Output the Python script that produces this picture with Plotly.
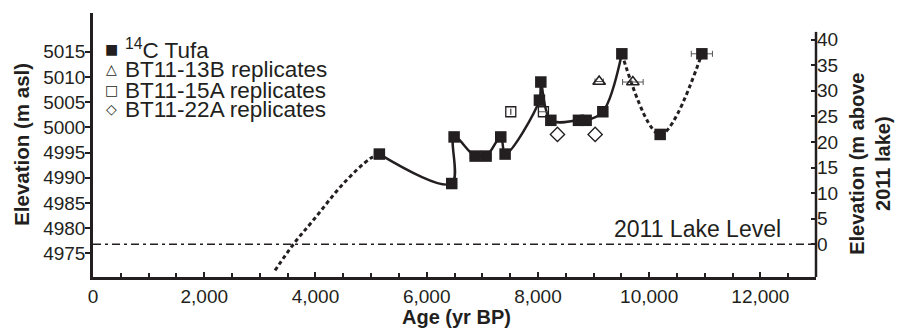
import plotly.graph_objects as go

# ---- data ----
tufa_age = [5149, 6451, 6493, 6871, 7068, 7332, 7410, 8027, 8052, 8232, 8729, 8867, 9167, 9509, 10198, 10948]
tufa_elev = [4994.7, 4988.85, 4998.1, 4994.3, 4994.3, 4998.1, 4994.7, 5005.4, 5009.0, 5001.4, 5001.4, 5001.4, 5003.1, 5014.6, 4998.6, 5014.6]
tufa_err = [90, 0, 70, 90, 90, 0, 0, 0, 0, 70, 70, 0, 0, 0, 0, 190]

# solid trend line through the dated tufa
solid_age = [5149, 6451, 6493, 6871, 7068, 7332, 7410, 8027, 8052, 8232, 8729, 8867, 9167, 9509]
solid_elev = [4994.7, 4988.85, 4998.1, 4994.3, 4994.3, 4998.1, 4994.7, 5005.4, 5009.0, 5001.4, 5001.4, 5001.4, 5003.1, 5014.6]

# dashed (inferred) trend lines
early_age = [3273, 3603, 3963, 4502, 4982, 5149]
early_elev = [4971.6, 4976.8, 4981.6, 4988.85, 4993.8, 4994.7]
late_age = [9509, 10198, 10948]
late_elev = [5014.6, 4998.6, 5014.6]

b13_age = [9101, 9707]
b13_elev = [5009.1, 5009.0]
b13_err = [75, 185]
b15_age = [7512, 8099]
b15_elev = [5003.1, 5003.1]
b15_err = [0, 90]
b22_age = [8351, 9029]
b22_elev = [4998.6, 4998.6]

lake_level = 4976.8
x_ticks = [0, 2000, 4000, 6000, 8000, 10000, 12000]
y_ticks = [4975, 4980, 4985, 4990, 4995, 5000, 5005, 5010, 5015]
y2_ticks = [0, 5, 10, 15, 20, 25, 30, 35, 40]

legend_labels = ["<sup>14</sup>C Tufa", "BT11-13B replicates", "BT11-15A replicates", "BT11-22A replicates"]
legend_glyphs = ["\u25A0", "\u25B3", "\u25A1", "\u25C7"]

INK = "#231f20"
FONT = "Liberation Sans, Arial, Helvetica, sans-serif"

fig = go.Figure()

fig.add_trace(go.Scatter(x=early_age, y=early_elev, mode="lines",
                         line=dict(color=INK, width=3, dash="4px,3px", shape="spline", smoothing=1),
                         hoverinfo="skip"))
fig.add_trace(go.Scatter(x=late_age, y=late_elev, mode="lines",
                         line=dict(color=INK, width=3, dash="4px,3px", shape="spline", smoothing=1),
                         hoverinfo="skip"))
fig.add_trace(go.Scatter(x=solid_age, y=solid_elev, mode="lines",
                         line=dict(color=INK, width=2.5, shape="spline", smoothing=1.0),
                         hoverinfo="skip"))

fig.add_trace(go.Scatter(x=[0, 13000], y=[lake_level, lake_level], mode="lines",
                         line=dict(color=INK, width=1.4, dash="8px,4px,3px,4px")))

fig.add_trace(go.Scatter(x=b13_age, y=b13_elev, mode="markers",
                         marker=dict(symbol="triangle-up-open", size=11, color=INK, line=dict(width=1.5)),
                         error_x=dict(type="data", array=b13_err, color="#555", thickness=1, width=3)))
fig.add_trace(go.Scatter(x=b15_age, y=b15_elev, mode="markers",
                         marker=dict(symbol="square-open", size=10, color=INK, line=dict(width=1.3)),
                         error_x=dict(type="data", array=b15_err, color="#555", thickness=1, width=3)))
fig.add_trace(go.Scatter(x=b22_age, y=b22_elev, mode="markers",
                         marker=dict(symbol="diamond-open", size=11, color=INK, line=dict(width=1.3)),
                         ))
fig.add_trace(go.Scatter(x=tufa_age, y=tufa_elev, mode="markers",
                         marker=dict(symbol="square", size=11.5, color=INK, line=dict(color=INK, width=0)),
                         error_x=dict(type="data", array=tufa_err, color="#555", thickness=1, width=3)))

# invisible trace to activate right axis
fig.add_trace(go.Scatter(x=[0], y=[0], yaxis="y2", mode="markers", marker=dict(opacity=0),
                         hoverinfo="skip"))

fig.update_layout(
    width=897, height=330,
    margin=dict(l=93, r=81, t=13, b=53),
    paper_bgcolor="white", plot_bgcolor="white",
    showlegend=False,
    font=dict(family=FONT, color=INK, size=19),
    xaxis=dict(range=[0, 13000], tickvals=x_ticks, tickformat=",d", ticks="inside", ticklen=5,
               tickwidth=2, tickcolor=INK, showline=True, linecolor=INK, linewidth=2.5,
               showgrid=False, zeroline=False, tickfont=dict(size=19),
               minor=dict(dtick=500, tick0=0, ticks="inside", ticklen=4, tickwidth=2, tickcolor=INK,
                          showgrid=False)),
    yaxis=dict(range=[4970.3, 5022.7], tickvals=y_ticks, ticks="outside", ticklen=5, tickwidth=2,
               tickcolor=INK, showline=True, linecolor=INK, linewidth=2.5, showgrid=False,
               zeroline=False, tickfont=dict(size=19), ticklabelstandoff=-4),
    yaxis2=dict(range=[-6.38, 45.19], tickvals=y2_ticks, overlaying="y", side="right",
                ticks="inside", ticklen=5, tickwidth=2, tickcolor=INK, showline=False,
                showgrid=False, zeroline=False, tickfont=dict(size=19)),
)

# right spine (shorter than plot height)
fig.add_shape(type="line", xref="paper", yref="y2", x0=1, x1=1, y0=-6.38, y1=41.5,
              line=dict(color=INK, width=2.5))

# axis titles
fig.add_annotation(text="Elevation (m asl)", xref="paper", yref="paper", x=-0.0987, y=0.503,
                   xanchor="center", yanchor="middle", borderpad=0,
                   textangle=-90, showarrow=False, font=dict(size=20.5, weight="bold"))
fig.add_annotation(text="Age (yr BP)", xref="paper", yref="paper", x=0.503, y=(277 - 317) / 264.3,
                   xanchor="center", yanchor="middle", borderpad=0,
                   showarrow=False, font=dict(size=20, weight="bold"))
fig.add_annotation(text="Elevation (m above<br>2011 lake)", xref="paper", yref="paper",
                   x=(870 - 93) / 722.7, y=0.43, xanchor="center", yanchor="middle", borderpad=0,
                   textangle=-90, showarrow=False,
                   font=dict(size=20, weight="bold"))

# lake level label
fig.add_annotation(text="2011 Lake Level", xref="x", yref="y", x=12400, y=4979.8,
                   xanchor="right", yanchor="middle", showarrow=False, font=dict(size=23))

# legend
leg_y_px = [49, 69, 90, 109]
for g, lab, ypx in zip(legend_glyphs, legend_labels, leg_y_px):
    yp = (277 - ypx) / 264.3
    fig.add_annotation(text=g, xref="paper", yref="paper", x=(111 - 93) / 722.7, y=yp,
                       xanchor="center", yanchor="middle", showarrow=False,
                       font=dict(size=14, family="DejaVu Sans"))
    fig.add_annotation(text=lab, xref="paper", yref="paper", x=(123 - 93) / 722.7, y=yp,
                       xanchor="left", yanchor="middle", showarrow=False, font=dict(size=22.5))

fig.write_html("out.html")
